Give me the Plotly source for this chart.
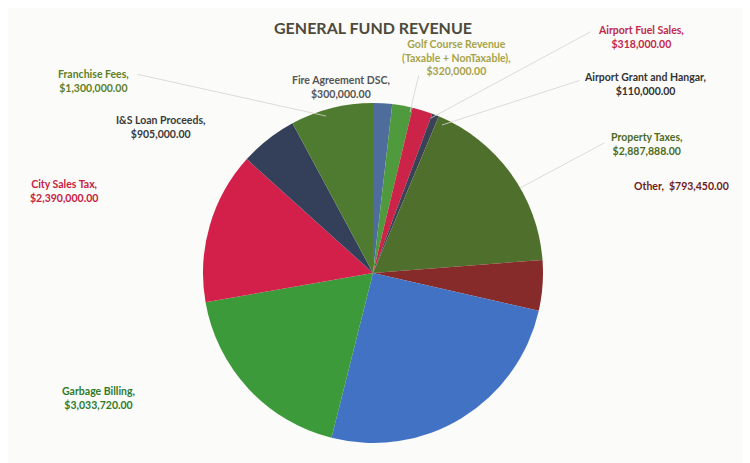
import plotly.graph_objects as go

# slices, clockwise from 12 o'clock
labels = ["Fire Agreement DSC", "Golf Course Revenue (Taxable + NonTaxable)",
          "Airport Fuel Sales", "Airport Grant and Hangar", "Property Taxes",
          "Other", "", "Garbage Billing", "City Sales Tax",
          "I&S Loan Proceeds", "Franchise Fees"]
values = [300000, 320000, 318000, 110000, 2887888,
          793450, 4200000, 3033720, 2390000,
          905000, 1300000]
colors = ["#4f6d9c", "#4e9a3c", "#cc2448", "#3b4257", "#4f6f2d",
          "#862a2a", "#4272c4", "#3c9a3a", "#d3204a",
          "#34405a", "#4f7b30"]

# label placement: x px, y px (top of text), text colour, line layout
label_pos = {
    "Franchise Fees": (85, 58, "#5d7f2a", "two"),
    "Fire Agreement DSC": (333, 64, "#555555", "two"),
    "I&S Loan Proceeds": (152, 104, "#3a3a3a", "two"),
    "City Sales Tax": (56, 168, "#c8203f", "two"),
    "Golf Course Revenue (Taxable + NonTaxable)": (448, 28, "#a7a34a", "golf"),
    "Airport Fuel Sales": (633, 14, "#c2284a", "two"),
    "Airport Grant and Hangar": (637, 61, "#333333", "two"),
    "Property Taxes": (639, 121, "#4d6b1f", "two"),
    "Other": (673, 170, "#6e1c1c", "one"),
    "Garbage Billing": (90, 375, "#2f7a2a", "two"),
}

# faint leader lines: (label end x, y) -> (slice x, y), in px
leaders = [
    ((128, 66), (318, 108)),
    ((411, 66), (402, 104)),
    ((584, 23), (423, 110)),
    ((573, 72), (434, 117)),
    ((598, 134), (512, 180)),
]

W, H = 750, 463

fig = go.Figure()
fig.add_trace(go.Pie(
    labels=labels,
    values=values,
    sort=False,
    direction="clockwise",
    rotation=0,
    marker=dict(colors=colors, line=dict(width=0)),
    textinfo="none",
    hovertemplate="%{label}: $%{value:,.2f}<extra></extra>",
    domain=dict(x=[195 / W, 535 / W], y=[1 - 435 / H, 1 - 95 / H]),
    showlegend=False,
))

annotations = []
for name, val in zip(labels, values):
    if name not in label_pos:
        continue
    x, y, col, style = label_pos[name]
    money = "${:,.2f}".format(val)
    if style == "golf":
        txt = "Golf Course Revenue<br>(Taxable + NonTaxable),<br>" + money
    elif style == "one":
        txt = name + ",  " + money
    else:
        txt = name + ",<br>" + money
    annotations.append(dict(
        x=x / W, y=1 - y / H, xref="paper", yref="paper",
        xanchor="center", yanchor="top", showarrow=False,
        text="<b>" + txt + "</b>", align="center",
        font=dict(family="Lato", size=10.5, color=col),
    ))

for (x0, y0), (x1, y1) in leaders:
    annotations.append(dict(
        x=x1 / W, y=1 - y1 / H, xref="paper", yref="paper",
        ax=x0 - x1, ay=y0 - y1, axref="pixel", ayref="pixel",
        text="", showarrow=True, arrowhead=0, arrowwidth=0.8,
        arrowcolor="#d4d4cc",
    ))

annotations.append(dict(
    x=365 / W, y=1 - 8 / H, xref="paper", yref="paper",
    xanchor="center", yanchor="top", showarrow=False,
    text="<b>GENERAL FUND REVENUE</b>",
    font=dict(family="Lato", size=16, color="#4d4a3c"),
))

fig.update_layout(
    width=W, height=H,
    margin=dict(l=0, r=0, t=0, b=0),
    paper_bgcolor="#fbfbf9",
    plot_bgcolor="#fbfbf9",
    annotations=annotations,
)

fig.write_html("out.html")
